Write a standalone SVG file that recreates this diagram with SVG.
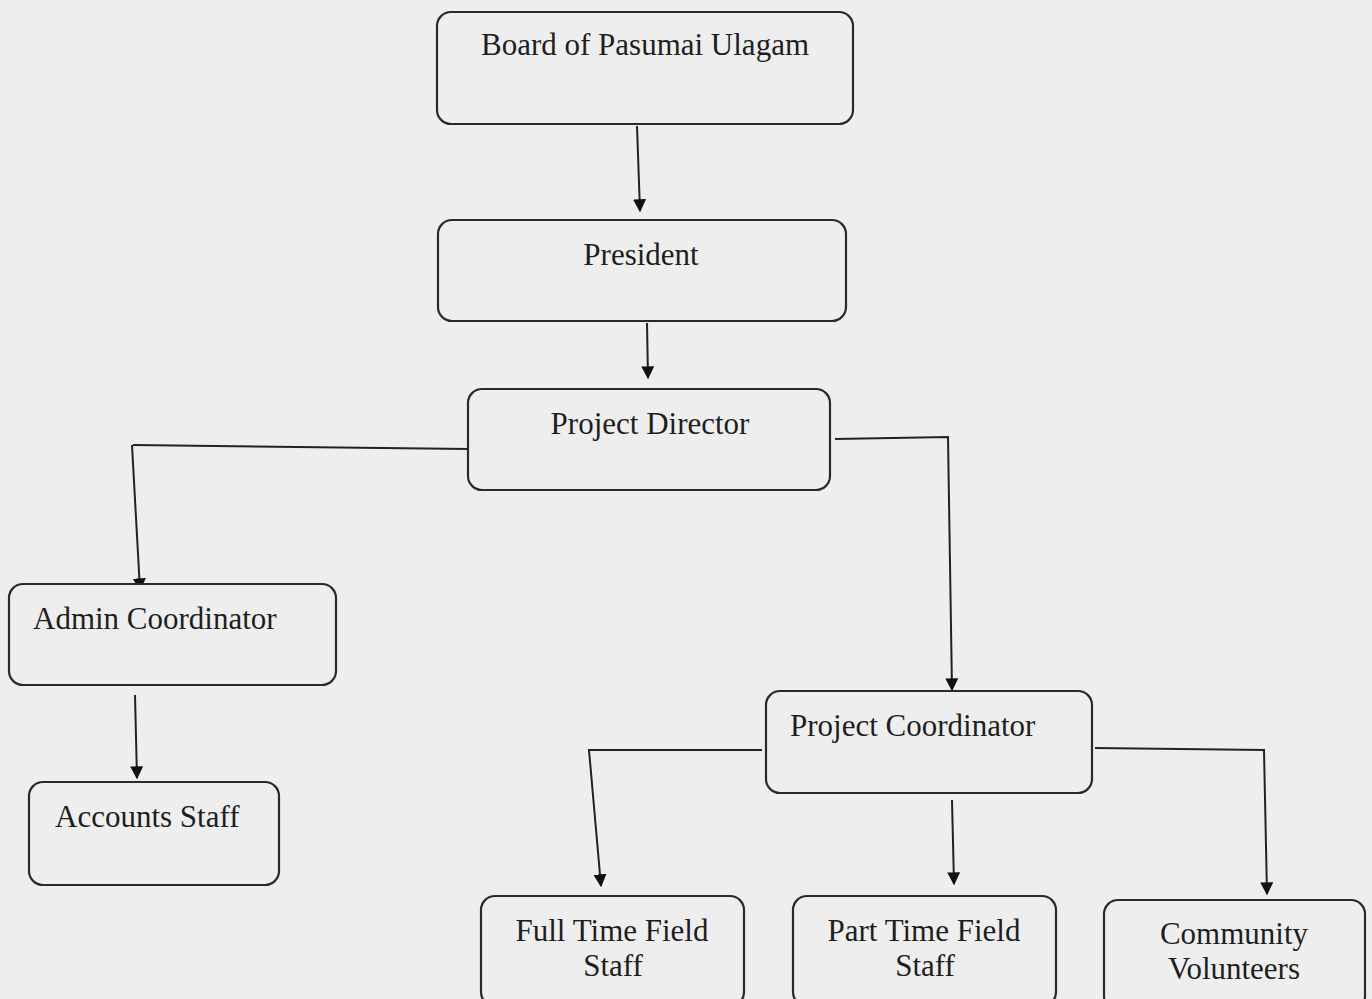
<svg xmlns="http://www.w3.org/2000/svg" width="1372" height="999" viewBox="0 0 1372 999">
<defs>
<style>
.box{fill:#efeeee;stroke:#2a2a2a;stroke-width:2.2}
.t{font-family:'Liberation Serif','Times New Roman','DejaVu Serif',serif;font-size:31px;fill:#1e1e1e}
.c{text-anchor:middle}
.ln{fill:none;stroke:#222;stroke-width:2}
</style>
<marker id="ah" viewBox="0 0 10 10" refX="9" refY="5" markerWidth="13" markerHeight="13" markerUnits="userSpaceOnUse" orient="auto">
<path d="M0,0 L10,5 L0,10 Z" fill="#111"/>
</marker>
</defs>
<rect width="1372" height="999" fill="#efeeee"/>
<g id="connectors">
<path class="ln" d="M637,126 L640,211" marker-end="url(#ah)"/>
<path class="ln" d="M647,323 L648,378" marker-end="url(#ah)"/>
<path class="ln" d="M468,449 L133,445"/>
<path class="ln" d="M132,445 L140,590" marker-end="url(#ah)"/>
<path class="ln" d="M835,439 L948,437 L952,690" marker-end="url(#ah)"/>
<path class="ln" d="M135,695 L137,778" marker-end="url(#ah)"/>
<path class="ln" d="M762,750 L589,750 L601,886" marker-end="url(#ah)"/>
<path class="ln" d="M952,800 L954,884" marker-end="url(#ah)"/>
<path class="ln" d="M1095,748 L1264,750 L1267,894" marker-end="url(#ah)"/>
</g>
<g id="board"><rect class="box" x="437" y="12" width="416" height="112" rx="14"/><text class="t c" x="645" y="55" textLength="328" lengthAdjust="spacingAndGlyphs">Board of Pasumai Ulagam</text></g>
<g id="president"><rect class="box" x="438" y="220" width="408" height="101" rx="14"/><text class="t c" x="641" y="265">President</text></g>
<g id="director"><rect class="box" x="468" y="389" width="362" height="101" rx="14"/><text class="t c" x="650" y="434">Project Director</text></g>
<g id="admin"><rect class="box" x="9" y="584" width="327" height="101" rx="14"/><text class="t" x="33" y="629">Admin Coordinator</text></g>
<g id="accounts"><rect class="box" x="29" y="782" width="250" height="103" rx="14"/><text class="t" x="55" y="827">Accounts Staff</text></g>
<g id="coordinator"><rect class="box" x="766" y="691" width="326" height="102" rx="14"/><text class="t" x="790" y="736">Project Coordinator</text></g>
<g id="fulltime"><rect class="box" x="481" y="896" width="263" height="110" rx="14"/><text class="t c" x="612" y="941">Full Time Field</text><text class="t c" x="613" y="976">Staff</text></g>
<g id="parttime"><rect class="box" x="793" y="896" width="263" height="110" rx="14"/><text class="t c" x="924" y="941">Part Time Field</text><text class="t c" x="925" y="976">Staff</text></g>
<g id="volunteers"><rect class="box" x="1104" y="900" width="261" height="110" rx="14"/><text class="t c" x="1234" y="944">Community</text><text class="t c" x="1234" y="979">Volunteers</text></g>
</svg>
